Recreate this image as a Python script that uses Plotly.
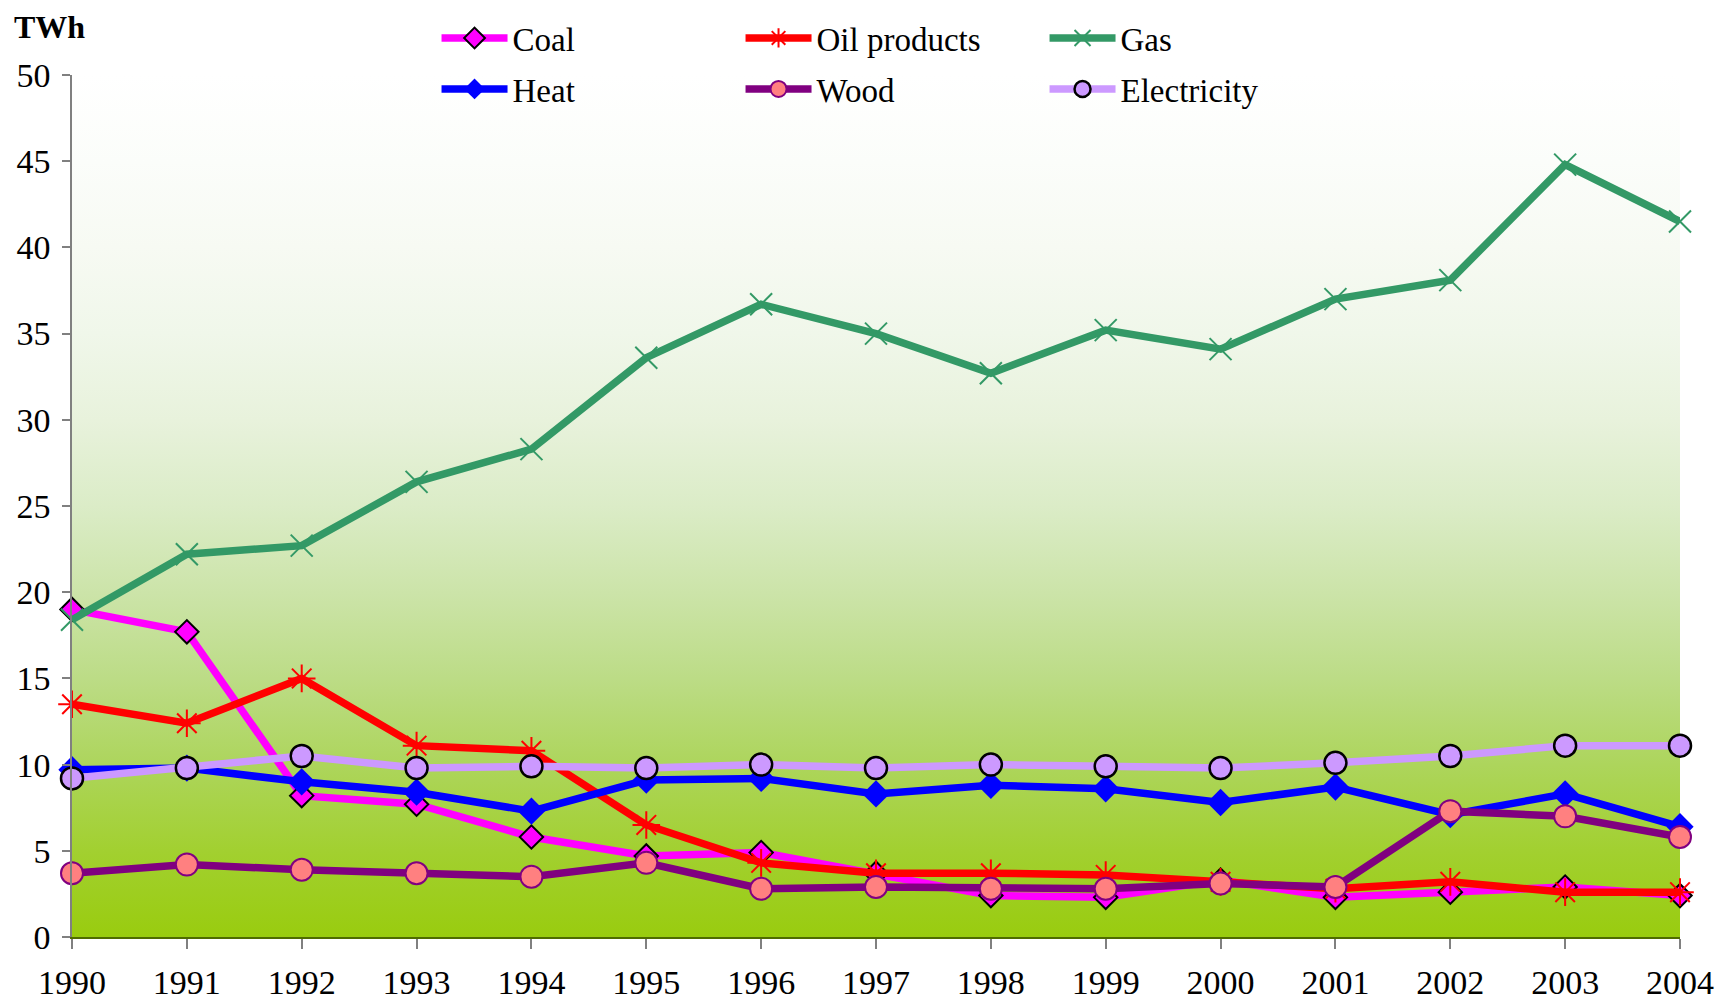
import plotly.graph_objects as go

years = list(range(1990, 2005))

coal = [19.0, 17.7, 8.2, 7.7, 5.8, 4.7, 4.9, 3.7, 2.4, 2.3, 3.3, 2.3, 2.6, 2.9, 2.4]
oil_products = [13.5, 12.4, 15.0, 11.1, 10.8, 6.5, 4.3, 3.7, 3.7, 3.6, 3.2, 2.8, 3.2, 2.6, 2.6]
gas = [18.4, 22.2, 22.7, 26.4, 28.3, 33.6, 36.7, 35.0, 32.7, 35.2, 34.1, 37.0, 38.1, 44.8, 41.5]
heat = [9.7, 9.8, 9.0, 8.4, 7.3, 9.1, 9.2, 8.3, 8.8, 8.6, 7.8, 8.7, 7.1, 8.3, 6.4]
wood = [3.7, 4.2, 3.9, 3.7, 3.5, 4.3, 2.8, 2.9, 2.8, 2.8, 3.1, 2.9, 7.3, 7.0, 5.8]
electricity = [9.2, 9.8, 10.5, 9.8, 9.9, 9.8, 10.0, 9.8, 10.0, 9.9, 9.8, 10.1, 10.5, 11.1, 11.1]

y_ticks = [0, 5, 10, 15, 20, 25, 30, 35, 40, 45, 50]

FONT = "Liberation Serif"

fig = go.Figure()

# plot-area background: vertical gradient white -> yellow green
fig.add_trace(go.Scatter(
    x=[years[0], years[-1], years[-1], years[0], years[0]],
    y=[y_ticks[0], y_ticks[0], y_ticks[-1], y_ticks[-1], y_ticks[0]],
    mode='none',
    fill='toself',
    fillgradient=dict(type='vertical', colorscale=[
        [0.0, '#99CC0F'], [0.1, '#A2D030'], [0.2, '#ADD55C'], [0.3, '#BCDC86'],
        [0.4, '#CCE4A9'], [0.5, '#DBECC7'], [0.6, '#E8F2DC'], [0.7, '#F0F7EA'],
        [0.8, '#F7FAF3'], [0.9, '#FBFDFA'], [1.0, '#FFFFFF']]),
    hoverinfo='skip',
    showlegend=False
))

series = [
    ('Coal', coal, '#FF00FF', dict(symbol='diamond', size=18, color='#FF00FF',
                                   line=dict(color='black', width=2)), 'legend'),
    ('Oil products', oil_products, '#FF0000', dict(symbol='asterisk-open', size=23,
                                                   line=dict(color='#FF0000', width=2)), 'legend'),
    ('Gas', gas, '#339966', dict(symbol='x-thin-open', size=22,
                                 line=dict(color='#339966', width=2)), 'legend'),
    ('Heat', heat, '#0000FF', dict(symbol='diamond', size=21, color='#0000FF',
                                   line=dict(color='#0000FF', width=0)), 'legend2'),
    ('Wood', wood, '#800080', dict(symbol='circle', size=22, color='#FF8080',
                                   line=dict(color='#800080', width=2)), 'legend2'),
    ('Electricity', electricity, '#CC99FF', dict(symbol='circle', size=22, color='#CC99FF',
                                                 line=dict(color='black', width=2.5)), 'legend2'),
]

for name, values, color, marker, leg in series:
    fig.add_trace(go.Scatter(
        x=years,
        y=values,
        mode='lines+markers',
        name=name,
        line=dict(color=color, width=7.5),
        marker=marker,
        cliponaxis=False,
        legend=leg
    ))

# legends live inside the paper area (above the y-axis domain) so they don't push margins
legend_style = dict(
    orientation='h',
    xref='paper', yref='paper',
    xanchor='left', yanchor='middle',
    entrywidth=223, entrywidthmode='pixels',
    itemwidth=66,
    font=dict(family=FONT, size=33, color='black'),
    bgcolor='rgba(0,0,0,0)',
    traceorder='normal'
)

# page body has an 8px margin, so the figure is 8px smaller than the window
fig.update_layout(
    width=1725,
    height=993,
    margin=dict(l=64, r=53, t=0, b=64, autoexpand=False),
    paper_bgcolor='white',
    plot_bgcolor='white',
    font=dict(family=FONT, size=34, color='black'),
    legend=dict(x=0.2267, y=0.9677, **legend_style),
    legend2=dict(x=0.2267, y=0.9128, **legend_style),
    xaxis=dict(
        range=[years[0], years[-1]],
        tickmode='array', tickvals=years, ticktext=[str(y) for y in years],
        showgrid=False, zeroline=False, automargin=False,
        showline=True, linecolor='#4F6B00', linewidth=2,
        ticks='outside', ticklen=10, tickcolor='#808080', tickwidth=1.5,
        ticklabelstandoff=4,
        tickfont=dict(family=FONT, size=34)
    ),
    yaxis=dict(
        domain=[0, 0.9279],
        range=[y_ticks[0], y_ticks[-1]],
        tickmode='array', tickvals=y_ticks,
        showgrid=False, zeroline=False, automargin=False,
        showline=True, linecolor='#808080', linewidth=1.5,
        ticks='outside', ticklen=8, tickcolor='#808080', tickwidth=1.5,
        ticklabelstandoff=5,
        tickfont=dict(family=FONT, size=34)
    ),
    annotations=[dict(
        text='<b>TWh</b>', xref='paper', yref='paper', x=-0.0373, y=0.980,
        xanchor='left', yanchor='middle', showarrow=False,
        font=dict(family=FONT, size=32, color='black')
    )]
)

fig.write_html("out.html")
